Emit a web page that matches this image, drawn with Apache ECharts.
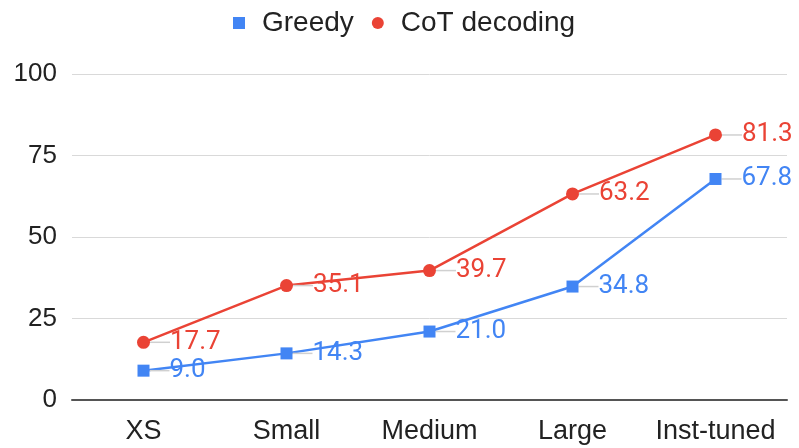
<!DOCTYPE html>
<html>
<head>
<meta charset="utf-8">
<script src="https://cdn.jsdelivr.net/npm/echarts@6/dist/echarts.min.js"></script>
<style>
  html, body { margin: 0; padding: 0; background: #fff; }
  #chart { width: 799px; height: 448px; }
</style>
</head>
<body>
<div id="chart"></div>
<script>
const categories = ['XS', 'Small', 'Medium', 'Large', 'Inst-tuned'];
const greedy = [9.0, 14.3, 21.0, 34.8, 67.8];
const cotDecoding = [17.7, 35.1, 39.7, 63.2, 81.3];
const yTicks = [0, 25, 50, 75, 100];

const chart = echarts.init(document.getElementById('chart'));

const labelStyle = (color) => ({
  show: true,
  position: 'right',
  distance: 4,
  color: color,
  fontSize: 26,
  fontFamily: 'Roboto',
  formatter: p => p.value.toFixed(1)
});

chart.setOption({
  animation: false,
  textStyle: { fontFamily: 'Liberation Sans' },
  legend: {
    top: 4,
    left: 228,
    itemWidth: 12,
    itemHeight: 12,
    itemGap: 18,
    textStyle: {
      fontSize: 28,
      color: '#222',
      fontFamily: 'Liberation Sans',
      padding: [0, 0, 0, 12]
    },
    data: [
      { name: 'Greedy', icon: 'rect' },
      { name: 'CoT decoding', icon: 'circle' }
    ]
  },
  grid: { left: 72, right: 12, top: 74, bottom: 48 },
  xAxis: {
    type: 'category',
    data: categories,
    axisTick: { show: false },
    axisLine: { lineStyle: { color: '#555', width: 2 } },
    axisLabel: { interval: 0, fontSize: 27, color: '#222', margin: 18 }
  },
  yAxis: {
    type: 'value',
    min: yTicks[0],
    max: yTicks[yTicks.length - 1],
    interval: 25,
    axisLine: { show: false },
    axisTick: { show: false },
    axisLabel: { fontSize: 26, color: '#222', margin: 15 },
    splitLine: { lineStyle: { color: '#d9d9d9', width: 1 } }
  },
  series: [
    {
      name: 'Greedy',
      type: 'line',
      data: greedy,
      symbol: 'rect',
      symbolSize: 12,
      itemStyle: { color: '#4285F4' },
      lineStyle: { width: 2.5, color: '#4285F4' },
      label: labelStyle('#4285F4'),
      labelLayout: { dx: 16 },
      labelLine: { show: true, lineStyle: { color: '#d0d0d0', width: 1.5 } },
      z: 3
    },
    {
      name: 'CoT decoding',
      type: 'line',
      data: cotDecoding,
      symbol: 'circle',
      symbolSize: 13,
      itemStyle: { color: '#EA4335' },
      lineStyle: { width: 2.5, color: '#EA4335' },
      label: labelStyle('#EA4335'),
      labelLayout: { dx: 16 },
      labelLine: { show: true, lineStyle: { color: '#d0d0d0', width: 1.5 } },
      z: 2
    }
  ]
});
</script>
</body>
</html>
